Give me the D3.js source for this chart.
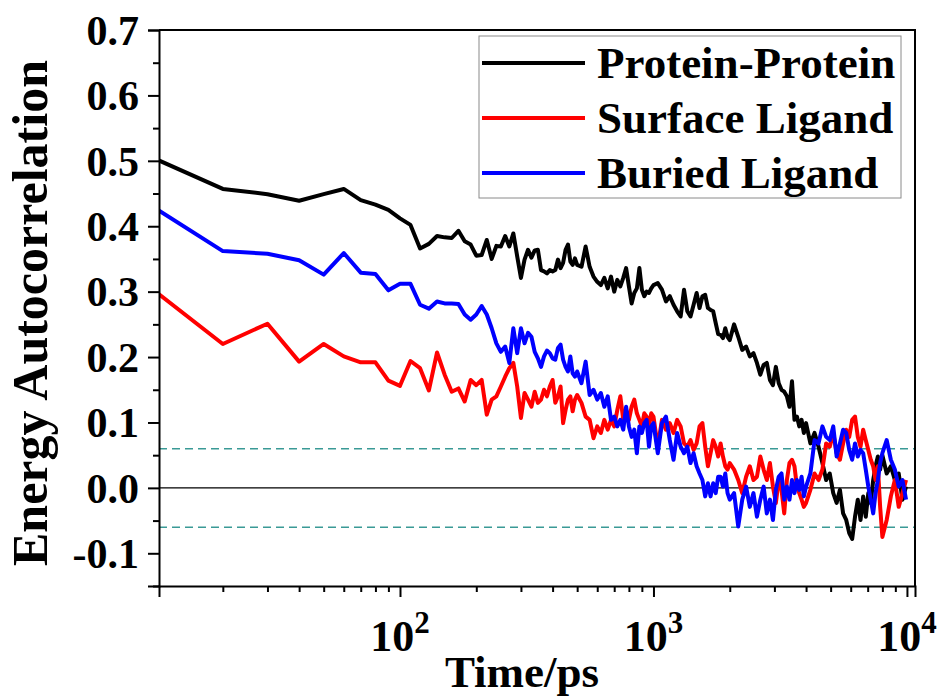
<!DOCTYPE html>
<html>
<head>
<meta charset="utf-8">
<script src="https://cdn.jsdelivr.net/npm/d3@7"></script>
<style>
  html, body { margin: 0; padding: 0; background: #fff; }
  svg { display: block; }
  text { font-family: "Liberation Serif", "Times New Roman", serif; font-weight: bold; fill: #000; }
</style>
</head>
<body>
<svg id="chart" width="937" height="698"></svg>
<script>
// ---- data ----
const times = [
  10,20,30,40,50,60,70,80,90,100,110,120,130,140,150,160,170,180,190,200,
  210,220,230,240,250,260,270,280,290,300,310,320,330,340,350,360,370,380,390,400,
  410,420,430,440,450,460,470,480,490,500,
  520,540,560,580,600,620,640,660,680,700,720,740,760,780,800,820,840,860,880,900,920,940,960,980,1000,
  1040,1080,1120,1160,1200,1240,1280,1320,1360,1400,1440,1480,1520,1560,1600,1640,1680,1720,1760,1800,1840,1880,1920,1960,2000,
  2080,2160,2240,2320,2400,2480,2560,2640,2720,2800,2880,2960,3040,3120,3200,3280,3360,3440,3520,3600,3680,3760,3840,3920,4000,
  4160,4320,4480,4640,4800,4960,5120,5280,5440,5600,5760,5920,6080,6240,6400,6560,6720,6880,7040,7200,7360,7520,7680,7840,8000,
  8320,8640,8960,9280,9600,9920
];
const proteinProtein = [
  0.509,0.457,0.449,0.439,0.449,0.457,0.440,0.433,0.425,0.412,0.402,0.366,0.373,0.385,0.383,0.382,0.393,0.377,0.372,0.355,
  0.356,0.379,0.350,0.370,0.369,0.385,0.369,0.389,0.354,0.321,0.349,0.364,0.352,0.363,0.364,0.333,0.331,0.328,0.333,0.331,
  0.333,0.349,0.336,0.344,0.364,0.372,0.346,0.341,0.351,0.341,
  0.338,0.369,0.338,0.323,0.315,0.310,0.321,0.305,0.323,0.300,0.318,0.308,0.321,0.336,0.308,0.282,0.298,0.305,0.336,0.303,0.293,0.300,0.298,0.305,0.310,
  0.313,0.303,0.285,0.293,0.280,0.270,0.262,0.303,0.270,0.262,0.280,0.298,0.275,0.293,0.295,0.275,0.272,0.270,0.252,0.235,0.234,0.229,0.244,0.231,0.226,
  0.250,0.231,0.211,0.216,0.201,0.206,0.191,0.173,0.188,0.191,0.165,0.157,0.185,0.160,0.150,0.147,0.140,0.124,0.163,0.104,0.109,0.094,0.104,0.084,0.099,
  0.068,0.084,0.063,0.038,0.012,0.022,-0.008,-0.023,-0.003,-0.039,-0.049,-0.069,-0.078,-0.044,-0.018,-0.049,-0.013,-0.044,-0.008,-0.023,0.012,0.033,0.048,0.028,0.050,
  0.022,0.033,0.012,0.022,-0.018,0.002
];
const surfaceLigand = [
  0.311,0.220,0.251,0.193,0.220,0.201,0.192,0.192,0.164,0.156,0.194,0.183,0.149,0.207,0.173,0.147,0.152,0.132,0.165,0.157,
  0.165,0.112,0.135,0.140,0.155,0.170,0.183,0.191,0.155,0.107,0.145,0.135,0.124,0.147,0.130,0.135,0.150,0.140,0.155,0.165,
  0.130,0.140,0.155,0.099,0.119,0.135,0.140,0.117,0.135,0.142,
  0.130,0.109,0.104,0.076,0.094,0.084,0.104,0.089,0.104,0.094,0.119,0.140,0.104,0.119,0.104,0.124,0.135,0.114,0.104,0.094,0.114,0.109,0.094,0.114,0.109,
  0.063,0.104,0.089,0.099,0.084,0.104,0.094,0.068,0.063,0.073,0.058,0.068,0.094,0.099,0.063,0.033,0.053,0.073,0.063,0.048,0.068,0.048,0.033,0.028,0.038,
  0.028,0.012,-0.008,0.017,0.033,0.012,0.017,0.048,0.028,0.012,0.038,0.002,-0.023,0.012,-0.003,-0.039,0.012,0.038,0.043,0.033,0.002,-0.008,-0.018,-0.029,-0.023,
  -0.003,0.022,0.012,0.028,0.068,0.063,0.084,0.053,0.043,0.068,0.089,0.078,0.104,0.109,0.078,0.063,0.089,0.073,0.058,0.043,0.033,0.012,0.033,-0.029,-0.075,
  -0.049,-0.013,0.012,-0.029,-0.008,0.012
];
const buriedLigand = [
  0.436,0.362,0.358,0.348,0.326,0.359,0.329,0.327,0.302,0.312,0.312,0.280,0.274,0.285,0.282,0.282,0.281,0.265,0.257,0.265,
  0.278,0.265,0.244,0.221,0.208,0.216,0.191,0.244,0.206,0.244,0.221,0.237,0.231,0.208,0.198,0.185,0.201,0.210,0.206,0.198,
  0.196,0.214,0.219,0.196,0.185,0.178,0.201,0.175,0.170,0.178,
  0.160,0.193,0.142,0.150,0.135,0.145,0.124,0.140,0.104,0.109,0.094,0.104,0.089,0.124,0.094,0.078,0.089,0.053,0.094,0.084,0.099,0.104,0.063,0.094,0.099,
  0.053,0.099,0.109,0.073,0.043,0.084,0.063,0.053,0.063,0.038,0.053,0.033,0.022,0.012,-0.013,0.007,-0.013,0.007,-0.008,0.017,0.017,0.002,0.022,-0.008,-0.018,
  -0.008,-0.059,-0.018,0.002,-0.029,-0.008,-0.044,-0.018,0.002,-0.039,-0.018,-0.049,-0.003,0.017,0.022,-0.018,0.002,-0.018,0.012,-0.008,0.012,-0.003,0.017,-0.013,0.002,
  0.022,0.073,0.068,0.094,0.078,0.073,0.094,0.048,0.068,0.089,0.084,0.058,0.043,0.068,0.048,0.058,0.053,0.028,0.002,-0.018,-0.039,-0.008,0.012,0.038,0.053,
  0.073,0.043,0.028,0.002,0.012,-0.018
];
const seriesNames = ["Protein-Protein", "Surface Ligand", "Buried Ligand"];
const seriesColors = ["#000000", "#ff0000", "#0000ff"];
const seriesValues = [proteinProtein, surfaceLigand, buriedLigand];
const yTicks = [-0.1, 0.0, 0.1, 0.2, 0.3, 0.4, 0.5, 0.6, 0.7];
const yMinorTicks = [-0.15, -0.05, 0.05, 0.15, 0.25, 0.35, 0.45, 0.55, 0.65];
const xMajorTicks = [100, 1000, 10000];
const xMinorTicks = [20,30,40,50,60,70,80,90,200,300,400,500,600,700,800,900,2000,3000,4000,5000,6000,7000,8000,9000];
const thresholdLevels = [0.06, -0.06];
const xTitle = "Time/ps";
const yTitle = "Energy Autocorrelation";

// ---- layout ----
const L = 159, R = 915, T = 30, B = 586;
const svg = d3.select("#chart");
const x = d3.scaleLog().domain([11.2, 10760]).range([L, R]);
const y = d3.scaleLinear().domain([-0.15, 0.7]).range([B, T]);

svg.append("defs").append("clipPath").attr("id", "plotclip")
  .append("rect").attr("x", L).attr("y", T).attr("width", R - L).attr("height", B - T);

// threshold dashed lines
svg.append("g").selectAll("line").data(thresholdLevels).join("line")
  .attr("x1", L).attr("x2", R).attr("y1", d => y(d)).attr("y2", d => y(d))
  .attr("stroke", "#3a9a96").attr("stroke-width", 1.5).attr("stroke-dasharray", "8,5");

// zero line
svg.append("line").attr("x1", L).attr("x2", R).attr("y1", y(0)).attr("y2", y(0))
  .attr("stroke", "#000").attr("stroke-width", 1.3);

// series
const line = d3.line().x(d => x(d[0])).y(d => y(d[1]));
const gLines = svg.append("g").attr("clip-path", "url(#plotclip)");
seriesValues.forEach((vals, i) => {
  gLines.append("path")
    .datum(times.map((t, k) => [t, vals[k]]))
    .attr("d", line)
    .attr("fill", "none")
    .attr("stroke", seriesColors[i])
    .attr("stroke-width", 4)
    .attr("stroke-linejoin", "round");
});

// axes
const yAxis = svg.append("g").attr("transform", `translate(${L},0)`)
  .call(d3.axisLeft(y).tickValues(yTicks).tickSize(11).tickFormat(d => d.toFixed(1)).tickPadding(9));
yAxis.selectAll("text").style("font-size", "42px").attr("dy", "0.34em");
const yMinor = svg.append("g").attr("transform", `translate(${L},0)`)
  .call(d3.axisLeft(y).tickValues(yMinorTicks).tickSize(6).tickFormat(""));
yMinor.select(".domain").remove();

const xAxis = svg.append("g").attr("transform", `translate(0,${B})`)
  .call(d3.axisBottom(x).tickValues(xMajorTicks).tickSize(11).tickFormat(""));
const xMinor = svg.append("g").attr("transform", `translate(0,${B})`)
  .call(d3.axisBottom(x).tickValues(xMinorTicks).tickSize(6).tickFormat(""));
xMinor.select(".domain").remove();

svg.selectAll(".domain").attr("stroke-width", 2);
svg.selectAll(".tick line").attr("stroke-width", 2);

// x tick labels 10^n
const xl = svg.append("g").selectAll("text").data(xMajorTicks).join("text")
  .attr("x", d => x(d)).attr("y", 651).attr("text-anchor", "middle")
  .style("font-size", "44px");
xl.append("tspan").text("10");
xl.append("tspan").attr("dy", -18).style("font-size", "31px").text(d => Math.round(Math.log10(d)));

// frame top/right
svg.append("path")
  .attr("d", `M${L},${T}H${R}V${B}`)
  .attr("fill", "none").attr("stroke", "#000").attr("stroke-width", 2);

// titles
svg.append("text").attr("x", 522).attr("y", 687).attr("text-anchor", "middle")
  .style("font-size", "45px").text(xTitle);
svg.append("text").attr("transform", "translate(47,313) rotate(-90)").attr("text-anchor", "middle")
  .style("font-size", "50px").text(yTitle);

// legend
const lg = svg.append("g");
lg.append("rect").attr("x", 479).attr("y", 36).attr("width", 422).attr("height", 162)
  .attr("fill", "#fff").attr("stroke", "#8a8a8a").attr("stroke-width", 1);
seriesNames.forEach((name, i) => {
  const by = 78 + i * 55;
  lg.append("line").attr("x1", 482).attr("x2", 585).attr("y1", by - 15).attr("y2", by - 15)
    .attr("stroke", seriesColors[i]).attr("stroke-width", 4);
  lg.append("text").attr("x", 597).attr("y", by).style("font-size", "45px").text(name);
});
</script>
</body>
</html>
